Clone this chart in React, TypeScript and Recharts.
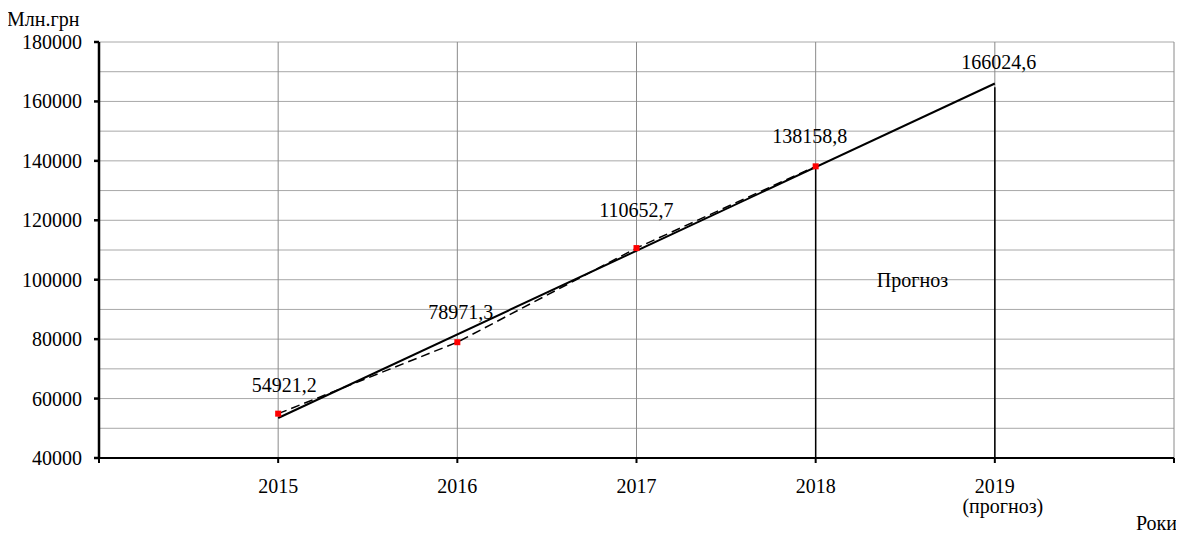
import React from 'react';
import {
  LineChart,
  Line,
  XAxis,
  YAxis,
  CartesianGrid,
  ReferenceLine,
  ReferenceDot,
  Label,
} from 'recharts';

const years = [2015, 2016, 2017, 2018, 2019];
const actualValues: (number | null)[] = [54921.2, 78971.3, 110652.7, 138158.8, null];
const trendValues: (number | null)[] = [53466.9, null, null, null, 166024.6];
const yTicks = [40000, 60000, 80000, 100000, 120000, 140000, 160000, 180000];
const gridValues = [40000, 50000, 60000, 70000, 80000, 90000, 100000, 110000, 120000, 130000, 140000, 150000, 160000, 170000, 180000];
const xTicks = [2014, 2015, 2016, 2017, 2018, 2019, 2020];
const verticalGrid = [2015, 2016, 2017, 2018, 2019, 2020];
const forecastYears = [2018, 2019];
const forecastTops = [138158.8, 164800];
const forecastNote = 'Прогноз';
const forecastTickNote = '(прогноз)';
const yUnit = 'Млн.грн';
const xUnit = 'Роки';

const data = years.map((year, i) => ({
  year,
  actual: actualValues[i],
  trend: trendValues[i],
}));

const FONT = "'Liberation Serif', 'Times New Roman', serif";
const FS = 20;
const txtStyle = { fontFamily: FONT, fontSize: FS, fill: '#000' } as React.CSSProperties;

const actualLabelOffsets = [
  [6, -29],
  [3.5, -30],
  [0, -38],
  [-6, -30],
];
const trendLabelOffset = [4, -22];

const fmt = (v: number) => v.toFixed(1).replace('.', ',');

const ActualLabel = (props: any) => {
  const { x, y, value, index } = props;
  if (value == null || x == null || y == null) return null;
  const off = actualLabelOffsets[index] || [0, -30];
  return (
    <text x={x + off[0]} y={y + off[1] + 7} textAnchor="middle" style={txtStyle}>
      {fmt(value)}
    </text>
  );
};

const TrendLabel = (props: any) => {
  const { x, y, value, index } = props;
  if (value == null || x == null || y == null || index !== 4) return null;
  return (
    <text x={x + trendLabelOffset[0]} y={y + trendLabelOffset[1] + 7} textAnchor="middle" style={txtStyle}>
      {fmt(value)}
    </text>
  );
};

const RedSquare = (props: any) => {
  const { cx, cy, payload } = props;
  if (cx == null || cy == null || payload?.actual == null) return null;
  return <rect x={cx - 3} y={cy - 3} width={6} height={6} fill="#ff0000" />;
};

const XTick = (props: any) => {
  const { x, y, payload } = props;
  const v = payload.value;
  if (v === 2014 || v === 2020) return null;
  return (
    <g>
      <text x={x} y={y + 30} textAnchor="middle" style={txtStyle}>
        {v}
      </text>
      {v === 2019 && (
        <text x={x + 8} y={y + 50} textAnchor="middle" style={txtStyle}>
          {forecastTickNote}
        </text>
      )}
    </g>
  );
};

const YTick = (props: any) => {
  const { x, y, payload } = props;
  return (
    <text x={x} y={y + 7} textAnchor="end" style={txtStyle}>
      {payload.value}
    </text>
  );
};

export default function App() {
  return (
    <div style={{ width: 1176, height: 528 }}>
      <LineChart
        width={1176}
        height={528}
        data={data}
        margin={{ top: 34, right: 10, bottom: 18, left: 0 }}
      >
        <CartesianGrid vertical={false} horizontalValues={gridValues} stroke="#a8a8a8" strokeWidth={1} />
        <CartesianGrid horizontal={false} verticalValues={verticalGrid} stroke="#8a8a8a" strokeWidth={1} />
        <XAxis
          dataKey="year"
          type="number"
          domain={[2014, 2020]}
          ticks={xTicks}
          interval={0}
          height={60}
          tickSize={5}
          tickMargin={0}
          stroke="#000"
          strokeWidth={2}
          tick={<XTick />}
          allowDecimals={false}
        >
          <Label
            content={(p: any) => {
              const vb = p.viewBox || {};
              return (
                <text x={vb.x + vb.width + 3} y={vb.y + 72} textAnchor="end" style={txtStyle}>
                  {xUnit}
                </text>
              );
            }}
          />
        </XAxis>
        <YAxis
          type="number"
          domain={[40000, 180000]}
          ticks={yTicks}
          interval={0}
          width={91}
          tickSize={5}
          tickMargin={12}
          stroke="#000"
          strokeWidth={2.5}
          tick={<YTick />}
          allowDataOverflow
        >
          <Label
            content={(p: any) => {
              const vb = p.viewBox || {};
              return (
                <text x={vb.x - 1} y={vb.y - 16} textAnchor="start" style={txtStyle}>
                  {yUnit}
                </text>
              );
            }}
          />
        </YAxis>
        {forecastYears.map((yr, i) => (
          <ReferenceLine
            key={yr}
            segment={[
              { x: yr, y: 40000 },
              { x: yr, y: forecastTops[i] },
            ]}
            stroke="#000"
            strokeWidth={1.5}
          />
        ))}
        <ReferenceDot
          x={2018.54}
          y={99575}
          r={0}
          fill="none"
          stroke="none"
          label={(p: any) => {
            const vb = p.viewBox || {};
            const cx = vb.x + (vb.width || 0) / 2;
            const cy = vb.y + (vb.height || 0) / 2;
            return (
              <text x={cx} y={cy + 6} textAnchor="middle" style={txtStyle}>
                {forecastNote}
              </text>
            );
          }}
        />
        <Line dataKey="trend" stroke="#000" strokeWidth={2} dot={false} connectNulls isAnimationActive={false} label={<TrendLabel />} />
        <Line
          dataKey="actual"
          stroke="#000"
          strokeWidth={1.5}
          strokeDasharray="9 5"
          dot={<RedSquare />}
          activeDot={false}
          isAnimationActive={false}
          label={<ActualLabel />}
        />
      </LineChart>
    </div>
  );
}
